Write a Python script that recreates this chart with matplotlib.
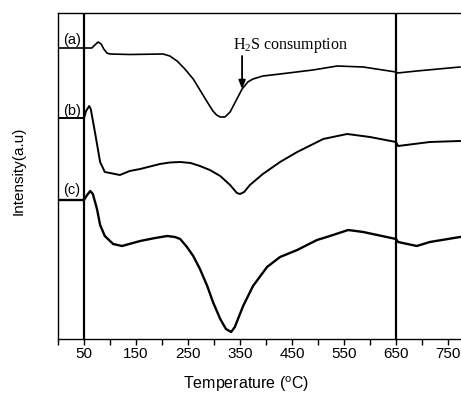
import numpy as np
import matplotlib
matplotlib.use("Agg")
import matplotlib.pyplot as plt

plt.rcParams['font.family'] = ['Liberation Sans', 'DejaVu Sans']
plt.rcParams['mathtext.fontset'] = 'custom'
plt.rcParams['mathtext.rm'] = 'Liberation Serif'
plt.rcParams['mathtext.it'] = 'Liberation Serif:italic'

# Data (temperature in degC, intensity in arbitrary units)
temp_a = [0, 50, 65, 71, 77, 83, 88, 94, 100, 138, 202, 215, 229, 244, 260, 273, 287, 298,
          305, 312, 321, 331, 342, 354, 365, 375, 394, 427, 490, 537, 587, 650, 653, 690, 773]
int_a = [291, 291, 291, 294, 297, 295, 290, 286, 285, 284.5, 285, 283, 278, 270, 260, 249,
         237, 228, 224, 222, 222, 227, 238, 250, 257, 260, 263, 265, 269, 273, 272, 267, 266, 268, 272]

temp_b = [0, 50, 54, 60, 63, 71, 81, 90, 100, 119, 138, 158, 196, 215, 235, 255, 273, 292, 312, 331,
          344, 350, 358, 369, 394, 427, 460, 510, 556, 600, 650, 654, 715, 773]
int_b = [221, 221, 228, 233, 230, 207, 177, 167, 166, 164, 168, 170, 175, 176.5, 177, 176, 173, 169, 163,
         154, 146, 145, 147, 154, 165, 177, 187, 200, 205, 202, 197, 193, 197, 198]

temp_c = [0, 50, 56, 62, 67, 75, 81, 90, 106, 123, 158, 187, 210, 225, 235, 248, 260, 273, 287, 298,
          312, 323, 333, 340, 356, 375, 402, 427, 460, 498, 523, 558, 587, 650, 654, 690, 715, 773]
int_c = [139, 139, 144, 148, 145, 130, 114, 103, 95, 93, 98, 101, 103, 102, 100, 92, 83, 70, 53, 37,
         20, 10, 7, 12, 33, 53, 72, 82, 89, 99, 103, 109, 107, 100, 97, 93, 97, 102]

curve_labels = ['(a)', '(b)', '(c)']
label_levels = [299, 228, 149]
vlines_at = [50, 650]
tick_labels = [50, 150, 250, 350, 450, 550, 650, 750]

W, H = 461, 394
left_px, right_px = 58, 465
fig = plt.figure(figsize=(W / 100, H / 100), dpi=100)
ax = fig.add_axes([left_px / W, 1 - 339 / H, (right_px - left_px) / W, (339 - 13) / H])

ax.plot(temp_a, int_a, color='black', lw=1.2, solid_joinstyle='round')
ax.plot(temp_b, int_b, color='black', lw=1.4, solid_joinstyle='round')
ax.plot(temp_c, int_c, color='black', lw=1.7, solid_joinstyle='round')

for v in vlines_at:
    ax.axvline(v, color='black', lw=1.6)

for lab, lev in zip(curve_labels, label_levels):
    ax.text(27, lev, lab, ha='center', va='center', fontsize=10.5)

ax.annotate('', xy=(354, 250), xytext=(354, 283),
            arrowprops=dict(arrowstyle='-|>,head_length=0.5,head_width=0.2',
                            color='black', lw=1.3, shrinkA=0, shrinkB=0))
ax.text(337, 290, 'H$_2$S consumption', family='Liberation Serif', fontsize=11.5,
        ha='left', va='baseline')

ax.set_xlim(0, (right_px - left_px) / 0.52)
ax.set_ylim(0, 326)
ticks = np.arange(0, 800, 50)
ax.set_xticks(ticks)
ax.set_xticklabels(['' if t not in tick_labels else str(t) for t in ticks])
ax.set_yticks([])
ax.tick_params(axis='x', direction='out', length=4, width=1, labelsize=11, pad=2)
for s in ['left', 'top', 'bottom', 'right']:
    ax.spines[s].set_linewidth(1.0)

fig.text(246 / W, 1 - 384 / H, 'Temperature ($\\mathregular{^o}$C)', ha='center', va='center',
         fontsize=11.5)
fig.text(19 / W, 1 - 171 / H, 'Intensity(a.u)', rotation=90, ha='center', va='center',
         fontsize=11)

fig.savefig('out.png', dpi=100)
